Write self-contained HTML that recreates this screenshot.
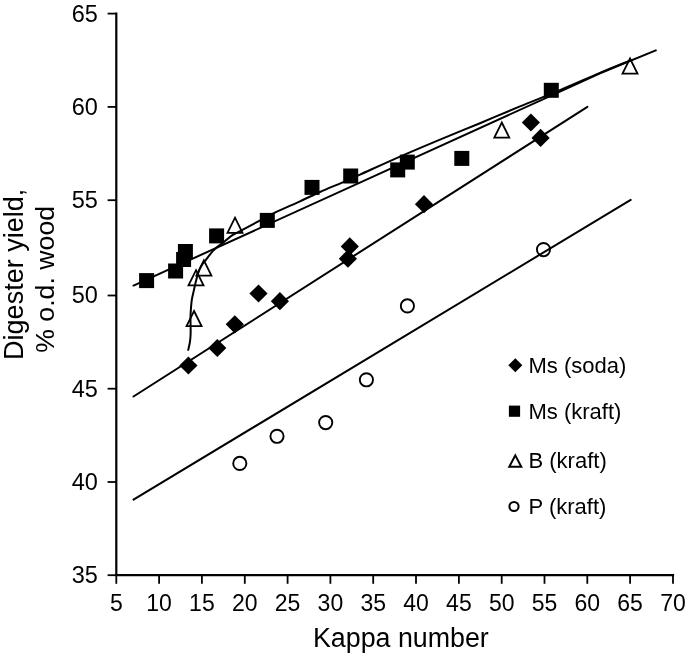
<!DOCTYPE html>
<html><head><meta charset="utf-8"><style>
html,body{margin:0;padding:0;background:#fff;}
svg{display:block;will-change:transform;}
text{font-family:"Liberation Sans",sans-serif;fill:#000;}
</style></head><body>
<svg width="685" height="656" viewBox="0 0 685 656">
<g stroke="#000" stroke-width="2.2" fill="none" stroke-linecap="butt">
<path d="M116.3 12.5V576.3M115.2 575.2H674.1"/>
<path d="M107.6 575.2H116.3" stroke-width="1.8"/>
<path d="M107.6 482.0H116.3" stroke-width="1.8"/>
<path d="M107.6 388.7H116.3" stroke-width="1.8"/>
<path d="M107.6 295.5H116.3" stroke-width="1.8"/>
<path d="M107.6 200.2H116.3" stroke-width="1.8"/>
<path d="M107.6 106.9H116.3" stroke-width="1.8"/>
<path d="M107.6 13.6H116.3" stroke-width="1.8"/>
<path d="M116.3 575.2V583.8" stroke-width="1.8"/>
<path d="M159.1 575.2V583.8" stroke-width="1.8"/>
<path d="M201.9 575.2V583.8" stroke-width="1.8"/>
<path d="M244.8 575.2V583.8" stroke-width="1.8"/>
<path d="M287.6 575.2V583.8" stroke-width="1.8"/>
<path d="M330.4 575.2V583.8" stroke-width="1.8"/>
<path d="M373.2 575.2V583.8" stroke-width="1.8"/>
<path d="M416.0 575.2V583.8" stroke-width="1.8"/>
<path d="M458.9 575.2V583.8" stroke-width="1.8"/>
<path d="M501.7 575.2V583.8" stroke-width="1.8"/>
<path d="M544.5 575.2V583.8" stroke-width="1.8"/>
<path d="M587.3 575.2V583.8" stroke-width="1.8"/>
<path d="M630.1 575.2V583.8" stroke-width="1.8"/>
<path d="M673.0 575.2V583.8" stroke-width="1.8"/>
</g>
<g font-size="23.5" text-anchor="end">
<text x="97.9" y="583.1">35</text>
<text x="97.9" y="489.9">40</text>
<text x="97.9" y="396.6">45</text>
<text x="97.9" y="303.4">50</text>
<text x="97.9" y="208.1">55</text>
<text x="97.9" y="114.8">60</text>
<text x="97.9" y="21.5">65</text>
</g>
<g font-size="23" text-anchor="middle">
<text x="116.3" y="610.5">5</text>
<text x="159.1" y="610.5">10</text>
<text x="201.9" y="610.5">15</text>
<text x="244.8" y="610.5">20</text>
<text x="287.6" y="610.5">25</text>
<text x="330.4" y="610.5">30</text>
<text x="373.2" y="610.5">35</text>
<text x="416.0" y="610.5">40</text>
<text x="458.9" y="610.5">45</text>
<text x="501.7" y="610.5">50</text>
<text x="544.5" y="610.5">55</text>
<text x="587.3" y="610.5">60</text>
<text x="630.1" y="610.5">65</text>
<text x="673.0" y="610.5">70</text>
</g>
<text x="313.0" y="646.8" font-size="26.8">Kappa number</text>
<text transform="translate(22.7,359.9) rotate(-90)" font-size="27">Digester yield,</text>
<text transform="translate(53.6,352.8) rotate(-90)" font-size="26.7">% o.d. wood</text>
<g stroke="#000" stroke-width="2.0" fill="none" stroke-linecap="round" stroke-linejoin="round">
<path d="M133.5 499.6L630.7 199.9"/>
<path d="M133.5 396.5L587.4 106.8"/>
<path d="M133.5 285.54L558.9 92.09L600 73.3L655.8 50.4"/>
<path d="M188.20 349.90C188.47 348.67 189.45 345.07 189.85 342.50C190.25 339.93 190.47 337.15 190.60 334.50C190.72 331.85 190.62 329.40 190.60 326.60C190.58 323.80 190.46 320.50 190.50 317.70C190.54 314.90 190.63 312.77 190.85 309.80C191.07 306.83 191.36 302.87 191.80 299.90C192.24 296.93 192.88 294.82 193.50 292.00C194.12 289.18 194.85 285.72 195.50 283.00C196.15 280.28 196.72 277.98 197.40 275.70C198.08 273.42 198.77 271.20 199.60 269.30C200.43 267.40 201.32 265.92 202.40 264.30C203.48 262.68 204.88 261.18 206.10 259.60C207.32 258.02 208.55 256.25 209.70 254.80C210.85 253.35 211.67 252.27 213.00 250.90C214.33 249.53 215.90 248.05 217.70 246.60C219.50 245.15 221.28 244.15 223.80 242.20C226.32 240.25 229.62 237.00 232.80 234.90C235.98 232.80 238.42 231.97 242.90 229.60C247.38 227.23 254.37 223.52 259.70 220.70C265.03 217.88 268.18 215.93 274.90 212.70C281.62 209.47 292.48 204.75 300.00 201.30C307.52 197.85 312.80 195.20 320.00 192.00C327.20 188.80 336.53 185.00 343.20 182.10C349.87 179.20 350.53 178.85 360.00 174.60C369.47 170.35 386.67 162.43 400.00 156.60C413.33 150.77 426.67 145.17 440.00 139.60C453.33 134.03 466.67 128.73 480.00 123.20C493.33 117.67 506.85 111.83 520.00 106.40C533.15 100.97 545.57 96.18 558.90 90.60C572.23 85.02 588.48 77.77 600.00 72.90C611.52 68.03 623.33 63.32 628.00 61.40"/>
</g>
<g fill="#000">
<rect x="139.1" y="273.1" width="15.0" height="15.0"/>
<rect x="168.1" y="263.5" width="15.0" height="15.0"/>
<rect x="177.9" y="244.0" width="15.0" height="15.0"/>
<rect x="176.1" y="252.0" width="15.0" height="15.0"/>
<rect x="209.1" y="228.4" width="15.0" height="15.0"/>
<rect x="259.8" y="212.9" width="15.0" height="15.0"/>
<rect x="304.5" y="179.9" width="15.0" height="15.0"/>
<rect x="343.2" y="168.5" width="15.0" height="15.0"/>
<rect x="390.2" y="162.4" width="15.0" height="15.0"/>
<rect x="399.8" y="154.6" width="15.0" height="15.0"/>
<rect x="454.3" y="150.9" width="15.0" height="15.0"/>
<rect x="543.8" y="82.8" width="15.0" height="15.0"/>
<path d="M188.4 356.4L197.5 365.5L188.4 374.6L179.3 365.5Z"/>
<path d="M217.3 338.9L226.4 348.0L217.3 357.1L208.2 348.0Z"/>
<path d="M234.8 315.2L243.9 324.3L234.8 333.4L225.7 324.3Z"/>
<path d="M258.5 284.4L267.6 293.5L258.5 302.6L249.4 293.5Z"/>
<path d="M279.9 292.1L289.0 301.2L279.9 310.3L270.8 301.2Z"/>
<path d="M349.8 237.3L358.9 246.4L349.8 255.5L340.7 246.4Z"/>
<path d="M347.9 249.6L357.0 258.7L347.9 267.8L338.8 258.7Z"/>
<path d="M424.0 195.1L433.1 204.2L424.0 213.3L414.9 204.2Z"/>
<path d="M530.9 113.4L540.0 122.5L530.9 131.6L521.8 122.5Z"/>
<path d="M540.6 128.8L549.7 137.9L540.6 147.0L531.5 137.9Z"/>
</g>
<g fill="none" stroke="#000" stroke-width="1.9">
<circle cx="239.8" cy="463.4" r="6.6"/>
<circle cx="277.0" cy="436.3" r="6.6"/>
<circle cx="325.7" cy="422.6" r="6.6"/>
<circle cx="366.4" cy="379.8" r="6.6"/>
<circle cx="407.4" cy="305.9" r="6.6"/>
<circle cx="543.5" cy="249.6" r="6.6"/>
<path d="M194.05 311.00L201.55 326.20H186.55Z" stroke-width="1.8"/>
<path d="M196.00 270.20L203.50 285.40H188.50Z" stroke-width="1.8"/>
<path d="M203.90 260.40L211.40 275.60H196.40Z" stroke-width="1.8"/>
<path d="M235.00 217.70L242.50 232.90H227.50Z" stroke-width="1.8"/>
<path d="M501.80 122.50L509.30 137.70H494.30Z" stroke-width="1.8"/>
<path d="M630.00 58.50L637.50 73.70H622.50Z" stroke-width="1.8"/>
</g>
<path d="M515.3 358.3L522.3 365.3L515.3 372.3L508.3 365.3Z" fill="#000"/>
<rect x="508.9" y="405.6" width="11.2" height="11.2" fill="#000"/>
<path d="M515.3 455.4L521.3 466.8H509.3Z" fill="none" stroke="#000" stroke-width="2"/>
<circle cx="514" cy="506.5" r="4.6" fill="none" stroke="#000" stroke-width="2"/>
<g font-size="22">
<text x="528.5" y="372.5">Ms (soda)</text>
<text x="528.5" y="419.0">Ms (kraft)</text>
<text x="528.5" y="467.9">B (kraft)</text>
<text x="528.5" y="514.0">P (kraft)</text>
</g>
</svg></body></html>
